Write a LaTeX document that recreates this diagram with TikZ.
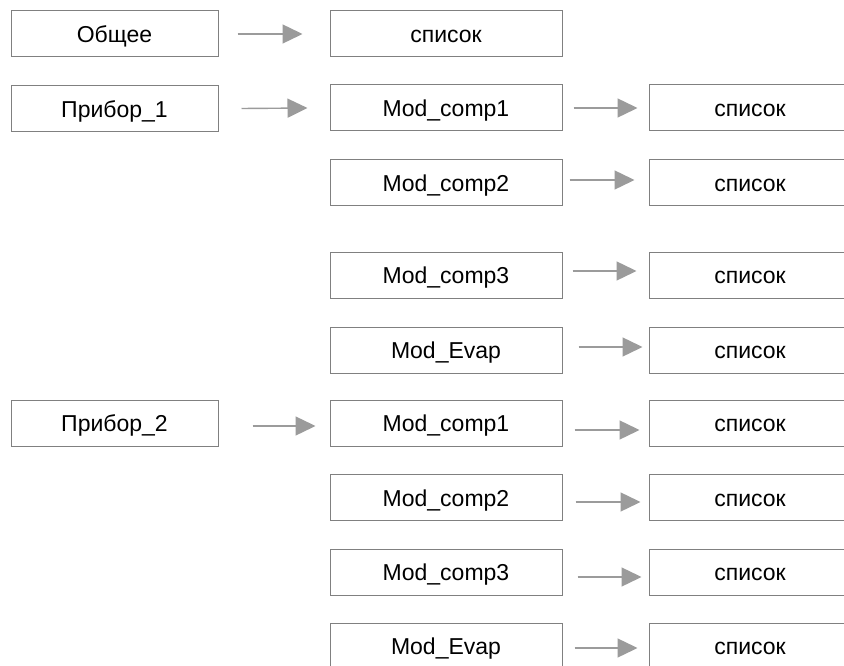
\documentclass[tikz,border=0pt]{standalone}
\usepackage{fontspec}
\setmainfont{Liberation Sans}
\usetikzlibrary{arrows.meta}
\definecolor{boxgray}{RGB}{128,128,128}
\definecolor{arrgray}{RGB}{155,155,155}
\tikzset{
  box/.style={draw=boxgray, line width=1pt, fill=white, rectangle, inner sep=0pt,
    minimum height=46pt, text height=17.5pt, text depth=0pt,
    font=\fontsize{23}{28}\selectfont},
  lbox/.style={box, minimum width=207pt},
  mbox/.style={box, minimum width=232pt},
  rbox/.style={box, minimum width=202pt},
  arr/.style={draw=arrgray, line width=1.4pt,
    -{Triangle[length=20pt,width=19pt]}, arrgray}
}
\begin{document}
\begin{tikzpicture}[x=1pt,y=-1pt]
\useasboundingbox (0,0) rectangle (844,666);
\clip (0,0) rectangle (844,666);
\fill[white] (0,0) rectangle (844,666);
% left column
\node[lbox] (gen) at (114.5,34) {Общее};
\node[lbox] (p1) at (114.5,108.5) {Прибор\_1};
\node[lbox] (p2) at (114.5,423) {Прибор\_2};
% middle column
\node[mbox] (top) at (446,34) {список};
\node[mbox] (m1) at (446,108) {Mod\_comp1};
\node[mbox] (m2) at (446,183) {Mod\_comp2};
\node[mbox] (m3) at (446,275) {Mod\_comp3};
\node[mbox] (m4) at (446,350) {Mod\_Evap};
\node[mbox] (n1) at (446,423) {Mod\_comp1};
\node[mbox] (n2) at (446,497.5) {Mod\_comp2};
\node[mbox] (n3) at (446,572) {Mod\_comp3};
\node[mbox] (n4) at (446,646) {Mod\_Evap};
% right column
\node[rbox] (r1) at (750,108) {список};
\node[rbox] (r2) at (750,183) {список};
\node[rbox] (r3) at (750,275) {список};
\node[rbox] (r4) at (750,350) {список};
\node[rbox] (s1) at (750,423) {список};
\node[rbox] (s2) at (750,497.5) {список};
\node[rbox] (s3) at (750,572) {список};
\node[rbox] (s4) at (750,646) {список};
% arrows
\draw[arr] ([xshift=19pt]gen.east) -- ([xshift=-27pt]top.west);
\draw[arr] ([xshift=23pt,yshift=0pt]p1.east) -- ([xshift=-22pt,yshift=0pt]m1.west);
\draw[arr] ([xshift=34pt,yshift=-3pt]p2.east) -- ([xshift=-14pt,yshift=-3pt]n1.west);
\draw[arr] ([xshift=11pt]m1.east) -- ([xshift=-11pt]r1.west);
\draw[arr] ([xshift=7pt,yshift=3pt]m2.east) -- ([xshift=-14pt,yshift=3pt]r2.west);
\draw[arr] ([xshift=10pt,yshift=4pt]m3.east) -- ([xshift=-12pt,yshift=4pt]r3.west);
\draw[arr] ([xshift=16pt,yshift=3pt]m4.east) -- ([xshift=-6pt,yshift=3pt]r4.west);
\draw[arr] ([xshift=12pt,yshift=-7pt]n1.east) -- ([xshift=-9pt,yshift=-7pt]s1.west);
\draw[arr] ([xshift=13pt,yshift=-4.5pt]n2.east) -- ([xshift=-8pt,yshift=-4.5pt]s2.west);
\draw[arr] ([xshift=15pt,yshift=-5pt]n3.east) -- ([xshift=-7pt,yshift=-5pt]s3.west);
\draw[arr] ([xshift=12pt,yshift=-2pt]n4.east) -- ([xshift=-11pt,yshift=-2pt]s4.west);
\end{tikzpicture}
\end{document}
